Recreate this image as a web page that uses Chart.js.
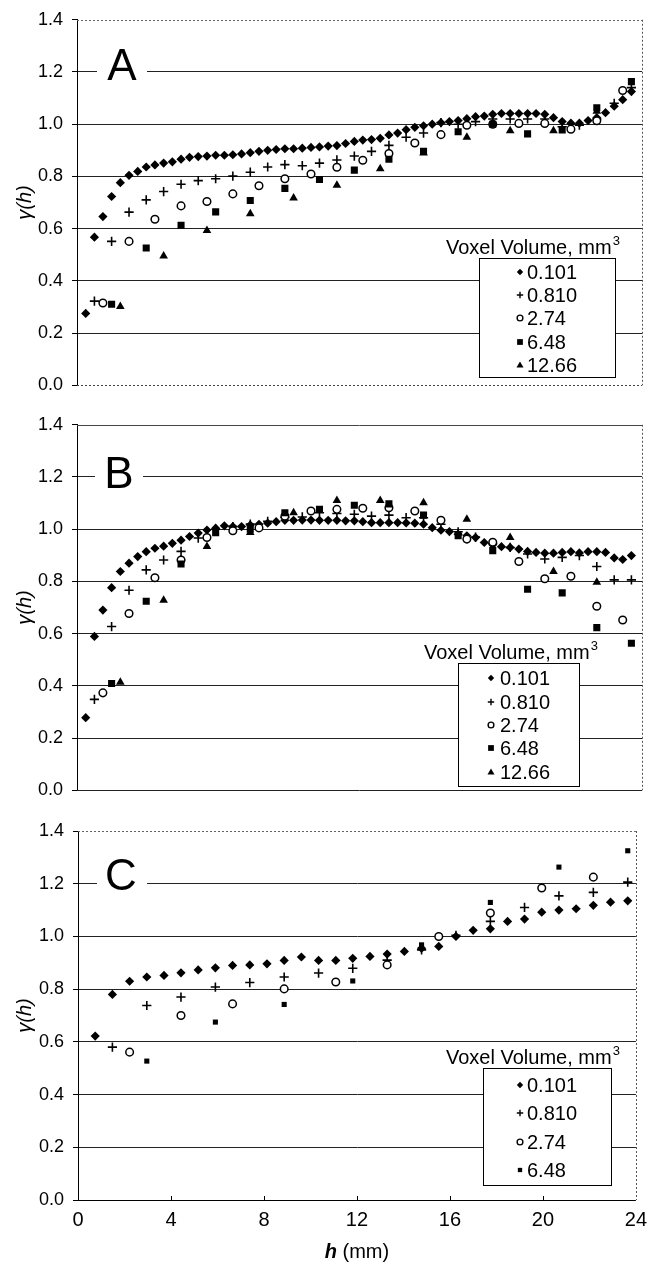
<!DOCTYPE html>
<html><head><meta charset="utf-8">
<script src="https://cdn.jsdelivr.net/npm/chart.js@4/dist/chart.umd.min.js"></script>
<style>
html,body{margin:0;padding:0;background:#fff;}
#wrap{position:relative;width:655px;height:1269px;overflow:hidden;}
canvas{position:absolute;left:0;}
</style></head><body>
<div id="wrap">
<canvas id="cA" width="655" height="405" style="top:0px"></canvas>
<canvas id="cB" width="655" height="405" style="top:405px"></canvas>
<canvas id="cC" width="655" height="459" style="top:810px"></canvas>
</div>
<script>
// ---------- DATA ----------
const seriesLabels = ['0.101', '0.810', '2.74', '6.48', '12.66'];
const yTicks = [0, 0.2, 0.4, 0.6, 0.8, 1.0, 1.2, 1.4];
const xTicks = [0, 4, 8, 12, 16, 20, 24];

// lag distances h (mm), panels A and B
const hAB1 = [0.37,0.74,1.10,1.47,1.84,2.21,2.58,2.94,3.31,3.68,4.05,4.42,4.78,5.15,5.52,5.89,6.26,6.62,6.99,7.36,7.73,8.10,8.46,8.83,9.20,9.57,9.94,10.30,10.67,11.04,11.41,11.78,12.14,12.51,12.88,13.25,13.62,13.98,14.35,14.72,15.09,15.46,15.82,16.19,16.56,16.93,17.30,17.66,18.03,18.40,18.77,19.14,19.50,19.87,20.24,20.61,20.98,21.34,21.71,22.08,22.45,22.82,23.18,23.55];
const hAB2 = [0.74,1.47,2.21,2.94,3.68,4.42,5.15,5.89,6.62,7.36,8.10,8.83,9.57,10.30,11.04,11.78,12.51,13.25,13.98,14.72,15.46,16.19,16.93,17.66,18.40,19.14,19.87,20.61,21.34,22.08,22.82,23.55];
const hAB3 = [1.10,2.21,3.31,4.42,5.52,6.62,7.73,8.83,9.94,11.04,12.14,13.25,14.35,15.46,16.56,17.66,18.77,19.87,20.98,22.08,23.18];
const hAB4 = [1.47,2.94,4.42,5.89,7.36,8.83,10.30,11.78,13.25,14.72,16.19,17.66,19.14,20.61,22.08,23.55];
const hAB5 = [1.84,3.68,5.52,7.36,9.20,11.04,12.88,14.72,16.56,18.40,20.24,22.08];

// panel A semivariance
const gA1 = [0.275,0.567,0.646,0.723,0.776,0.804,0.819,0.836,0.844,0.851,0.856,0.866,0.873,0.876,0.878,0.881,0.881,0.883,0.886,0.891,0.896,0.900,0.903,0.906,0.906,0.908,0.911,0.913,0.916,0.918,0.926,0.934,0.939,0.941,0.946,0.959,0.966,0.979,0.988,0.994,1.000,1.006,1.010,1.014,1.021,1.029,1.031,1.038,1.041,1.041,1.041,1.041,1.041,1.038,1.025,1.010,1.004,1.004,1.014,1.025,1.044,1.069,1.094,1.125];
const gA2 = [0.322,0.551,0.663,0.710,0.742,0.770,0.784,0.791,0.801,0.816,0.836,0.845,0.841,0.851,0.863,0.878,0.896,0.919,0.950,0.966,1.006,1.000,1.010,1.020,1.020,1.020,1.020,0.990,0.996,1.020,1.080,1.140];
const gA3 = [0.315,0.551,0.636,0.687,0.704,0.733,0.764,0.791,0.809,0.835,0.862,0.888,0.928,0.960,0.996,1.000,1.003,1.003,0.981,1.013,1.129];
const gA4 = [0.310,0.526,0.613,0.664,0.708,0.754,0.788,0.824,0.866,0.896,0.971,1.000,0.963,0.978,1.063,1.163];
const gA5 = [0.302,0.495,0.593,0.657,0.717,0.766,0.829,0.890,0.950,0.975,0.975,1.050];

// panel B semivariance
const gB1 = [0.278,0.589,0.690,0.776,0.838,0.870,0.895,0.914,0.927,0.935,0.946,0.958,0.972,0.985,0.997,1.004,1.013,1.010,1.010,1.016,1.019,1.023,1.029,1.034,1.034,1.035,1.035,1.034,1.034,1.034,1.032,1.032,1.029,1.025,1.025,1.025,1.025,1.024,1.023,1.019,1.006,0.996,0.991,0.981,0.975,0.968,0.949,0.940,0.933,0.930,0.924,0.915,0.911,0.908,0.908,0.911,0.914,0.909,0.914,0.914,0.911,0.890,0.884,0.899];
const gB2 = [0.348,0.627,0.766,0.844,0.882,0.915,0.966,1.000,1.010,1.020,1.030,1.045,1.047,1.063,1.060,1.057,1.050,1.054,1.044,1.044,1.019,0.990,0.970,0.945,0.930,0.905,0.886,0.892,0.899,0.857,0.806,0.806];
const gB3 = [0.373,0.677,0.814,0.882,0.968,0.994,1.005,1.050,1.070,1.076,1.080,1.082,1.070,1.034,0.962,0.950,0.876,0.810,0.820,0.705,0.652];
const gB4 = [0.409,0.724,0.867,0.987,1.000,1.063,1.076,1.092,1.097,1.054,0.975,0.918,0.770,0.756,0.623,0.563];
const gB5 = [0.414,0.728,0.934,0.987,1.063,1.110,1.110,1.101,1.038,0.968,0.838,0.797];

// lag distances h (mm), panel C
const hC1 = [0.74,1.48,2.22,2.96,3.70,4.43,5.17,5.91,6.65,7.39,8.13,8.87,9.61,10.35,11.09,11.82,12.56,13.30,14.04,14.78,15.52,16.26,17.00,17.74,18.48,19.21,19.95,20.69,21.43,22.17,22.91,23.65];
const hC2 = [1.48,2.96,4.43,5.91,7.39,8.87,10.35,11.82,13.30,14.78,16.26,17.74,19.21,20.69,22.17,23.65];
const hC3 = [2.22,4.43,6.65,8.87,11.09,13.30,15.52,17.74,19.95,22.17];
const hC4 = [2.96,5.91,8.87,11.82,14.78,17.74,20.69,23.65];

// panel C semivariance
const gC1 = [0.622,0.780,0.830,0.846,0.852,0.862,0.873,0.881,0.890,0.892,0.896,0.909,0.922,0.909,0.909,0.917,0.924,0.933,0.943,0.955,0.962,1.000,1.023,1.029,1.057,1.066,1.092,1.100,1.105,1.118,1.130,1.135];
const gC2 = [0.580,0.738,0.770,0.808,0.825,0.846,0.861,0.879,0.910,0.949,1.004,1.057,1.110,1.154,1.167,1.206];
const gC3 = [0.561,0.700,0.744,0.801,0.827,0.892,1.000,1.089,1.184,1.225];
const gC4 = [0.527,0.675,0.742,0.831,0.968,1.129,1.263,1.325];

// ---------- STYLES ----------
const FONT = "'Liberation Sans', Arial, Helvetica, sans-serif";
const markerStyles = [
  {shape:'rectRot', r:4.6, fill:'#000', stroke:'#000', bw:0},
  {shape:'cross', r:4.6, fill:'#000', stroke:'#000', bw:1.6},
  {shape:'circle', r:3.8, fill:'#fff', stroke:'#000', bw:1.5},
  {shape:'rect', r:5.0, fill:'#000', stroke:'#000', bw:0},
  {shape:'triangle', r:5.0, fill:'#000', stroke:'#000', bw:0}
];

function drawLegendMarker(ctx, shape, x, y, r) {
  ctx.save();
  ctx.fillStyle = '#000'; ctx.strokeStyle = '#000'; ctx.lineWidth = 1.4;
  ctx.beginPath();
  if (shape === 'rectRot') { ctx.moveTo(x - r, y); ctx.lineTo(x, y - r); ctx.lineTo(x + r, y); ctx.lineTo(x, y + r); ctx.closePath(); ctx.fill(); }
  else if (shape === 'cross') { ctx.moveTo(x - r, y); ctx.lineTo(x + r, y); ctx.moveTo(x, y - r); ctx.lineTo(x, y + r); ctx.stroke(); }
  else if (shape === 'circle') { ctx.arc(x, y, r * 0.9, 0, Math.PI * 2); ctx.fillStyle = '#fff'; ctx.fill(); ctx.stroke(); }
  else if (shape === 'rect') { ctx.rect(x - r * 0.9, y - r * 0.9, r * 1.8, r * 1.8); ctx.fill(); }
  else if (shape === 'triangle') { ctx.moveTo(x, y - r * 1.1); ctx.lineTo(x + r * 1.1, y + r * 0.8); ctx.lineTo(x - r * 1.1, y + r * 0.8); ctx.closePath(); ctx.fill(); }
  ctx.restore();
}

function hline(ctx, x1, x2, y, color, dash) {
  ctx.save(); ctx.strokeStyle = color; ctx.lineWidth = 1; ctx.setLineDash(dash || []);
  ctx.beginPath(); ctx.moveTo(x1, y + 0.5); ctx.lineTo(x2, y + 0.5); ctx.stroke(); ctx.restore();
}
function vline(ctx, x, y1, y2, color, dash) {
  ctx.save(); ctx.strokeStyle = color; ctx.lineWidth = 1; ctx.setLineDash(dash || []);
  ctx.beginPath(); ctx.moveTo(x + 0.5, y1); ctx.lineTo(x + 0.5, y2); ctx.stroke(); ctx.restore();
}

function makeChart(id, P) {
  const datasets = P.series.map((s, i) => {
    const st = Object.assign({}, markerStyles[i], s.styleOverride || {});
    return {
      label: seriesLabels[i],
      data: s.h.map((x, j) => ({x: x, y: s.g[j]})),
      pointStyle: st.shape,
      pointRadius: st.r,
      pointHoverRadius: st.r,
      backgroundColor: st.fill,
      borderColor: st.stroke,
      borderWidth: st.bw,
      showLine: false,
      order: 10 - i
    };
  });

  const deco = {
    id: 'deco' + id,
    beforeDatasetsDraw(chart) {
      const ctx = chart.ctx, a = chart.chartArea;
      hline(ctx, a.left, a.right, Math.round(a.top), P.topColor, P.topDash);
      vline(ctx, Math.round(a.right), a.top, a.bottom, '#555', [2, 2]);
      hline(ctx, a.left, a.right, Math.round(a.bottom), P.bottomColor, P.bottomDash);
      if (P.xLabels) {
        const xs = chart.scales.x;
        ctx.save(); ctx.strokeStyle = '#000'; ctx.lineWidth = 1;
        xTicks.forEach(v => {
          if (v === 0 || v === 24) return;
          const px = Math.round(xs.getPixelForValue(v)) + 0.5;
          ctx.beginPath(); ctx.moveTo(px, a.bottom); ctx.lineTo(px, a.bottom - 4); ctx.stroke();
        });
        ctx.restore();
      }
    },
    afterDatasetsDraw(chart) {
      const ctx = chart.ctx, a = chart.chartArea;
      const ys = chart.scales.y;
      // panel letter with white background over gridline
      const gy = ys.getPixelForValue(1.2);
      ctx.save();
      ctx.fillStyle = '#fff';
      ctx.fillRect(P.letterGap[0], gy - 3, P.letterGap[1] - P.letterGap[0], 6);
      ctx.fillStyle = '#000';
      ctx.font = '44px ' + FONT;
      ctx.textAlign = 'center'; ctx.textBaseline = 'alphabetic';
      ctx.fillText(P.letter, P.letterX, P.letterY);
      ctx.restore();

      // y axis title
      ctx.save();
      ctx.translate(P.yTitleX, (a.top + a.bottom) / 2);
      ctx.rotate(-Math.PI / 2);
      ctx.fillStyle = '#000';
      ctx.font = 'italic 20px ' + FONT;
      ctx.textAlign = 'center'; ctx.textBaseline = 'middle';
      ctx.fillText('\u03B3(h)', 0, 0);
      ctx.restore();

      // legend title
      const L = P.legend;
      ctx.save();
      ctx.fillStyle = '#000';
      ctx.font = '20px ' + FONT;
      ctx.textAlign = 'left'; ctx.textBaseline = 'alphabetic';
      const t = 'Voxel Volume, mm';
      ctx.fillText(t, L.titleX, L.titleY);
      const tw = ctx.measureText(t).width;
      ctx.font = '13px ' + FONT;
      ctx.fillText('3', L.titleX + tw + 1, L.titleY - 9);
      // legend box
      ctx.fillStyle = '#fff';
      ctx.fillRect(L.box[0], L.box[1], L.box[2] - L.box[0], L.box[3] - L.box[1]);
      ctx.strokeStyle = '#000'; ctx.lineWidth = 1;
      ctx.strokeRect(L.box[0] + 0.5, L.box[1] + 0.5, L.box[2] - L.box[0], L.box[3] - L.box[1]);
      ctx.font = '20px ' + FONT;
      ctx.textBaseline = 'middle';
      ctx.fillStyle = '#000';
      L.rows.forEach((ry, i) => {
        const shape = markerStyles[i].shape;
        drawLegendMarker(ctx, shape, L.markerX, ry, (P.legendSmallLast && i === 3) ? 2.4 : 3.2);
        ctx.fillStyle = '#000';
        ctx.fillText(seriesLabels[i], L.textX, ry + 1);
      });
      ctx.restore();

      // x axis title
      if (P.xLabels) {
        ctx.save();
        ctx.fillStyle = '#000';
        ctx.textBaseline = 'middle'; ctx.textAlign = 'left';
        ctx.font = 'italic bold 20px ' + FONT;
        const w1 = ctx.measureText('h').width;
        ctx.font = '20px ' + FONT;
        const w2 = ctx.measureText(' (mm)').width;
        const x0 = (a.left + a.right) / 2 - (w1 + w2) / 2;
        ctx.font = 'italic bold 20px ' + FONT;
        ctx.fillText('h', x0, P.xTitleY);
        ctx.font = '20px ' + FONT;
        ctx.fillText(' (mm)', x0 + w1, P.xTitleY);
        ctx.restore();
      }
    }
  };

  return new Chart(document.getElementById(id), {
    type: 'scatter',
    data: {datasets: datasets},
    options: {
      responsive: false,
      animation: false,
      events: [],
      layout: {padding: {top: P.padTop, right: P.padRight, bottom: 0, left: 0}},
      plugins: {legend: {display: false}, tooltip: {enabled: false}},
      scales: {
        x: {
          type: 'linear', min: 0, max: 24,
          afterBuildTicks: s => { s.ticks = xTicks.map(v => ({value: v})); },
          ticks: {display: !!P.xLabels, color: '#000', font: {family: FONT, size: 20}, padding: P.xTickPad || 0, maxRotation: 0, autoSkip: false},
          grid: {display: false, drawTicks: false},
          border: {display: false},
          afterFit: s => { s.height = P.xHeight; }
        },
        y: {
          min: 0, max: 1.4,
          afterBuildTicks: s => { s.ticks = yTicks.map(v => ({value: v})); },
          ticks: {color: '#000', font: {family: FONT, size: 18}, padding: 9, callback: v => Number(v).toFixed(1)},
          grid: {
            color: c => (c.tick && (c.tick.value > 1.39 || c.tick.value < 0.01)) ? 'rgba(0,0,0,0)' : '#222',
            tickColor: '#000', tickLength: 5, lineWidth: 1, drawTicks: true
          },
          border: {display: true, color: '#000', width: 1},
          afterFit: s => { s.width = P.yWidth; }
        }
      }
    },
    plugins: [deco]
  });
}

makeChart('cA', {
  series: [{h: hAB1, g: gA1}, {h: hAB2, g: gA2}, {h: hAB3, g: gA3}, {h: hAB4, g: gA4}, {h: hAB5, g: gA5}],
  padTop: 15, padRight: 13, yWidth: 77, xHeight: 17,
  topColor: '#666', topDash: [2, 2], bottomColor: '#444', bottomDash: [2, 2],
  letter: 'A', letterX: 122, letterY: 80, letterGap: [97, 147],
  yTitleX: 25,
  legend: {titleX: 446, titleY: 254, box: [479, 258, 615, 377], markerX: 520, textX: 527, rows: [272, 295, 318, 342, 365]}
});
makeChart('cB', {
  series: [{h: hAB1, g: gB1}, {h: hAB2, g: gB2}, {h: hAB3, g: gB3}, {h: hAB4, g: gB4}, {h: hAB5, g: gB5}],
  padTop: 18, padRight: 13, yWidth: 77, xHeight: 17,
  topColor: '#444', topDash: [], bottomColor: '#222', bottomDash: [],
  letter: 'B', letterX: 119, letterY: 83, letterGap: [95, 143],
  yTitleX: 25,
  legend: {titleX: 424, titleY: 254, box: [458, 258, 579, 381], markerX: 491, textX: 500, rows: [273, 297, 320, 343, 367]}
});
makeChart('cC', {
  series: [{h: hC1, g: gC1}, {h: hC2, g: gC2}, {h: hC3, g: gC3}, {h: hC4, g: gC4, styleOverride: {r: 3.6}}],
  padTop: 21, padRight: 12, yWidth: 78, xHeight: 69, xLabels: true, xTickPad: 8, xTitleY: 442,
  topColor: '#666', topDash: [2, 2], bottomColor: '#000', bottomDash: [],
  letter: 'C', letterX: 121, letterY: 80, letterGap: [97, 147],
  yTitleX: 25, legendSmallLast: true,
  legend: {titleX: 446, titleY: 254, box: [483, 258, 611, 375], markerX: 520, textX: 527, rows: [275, 303, 332, 360]}
});
</script>
</body></html>
